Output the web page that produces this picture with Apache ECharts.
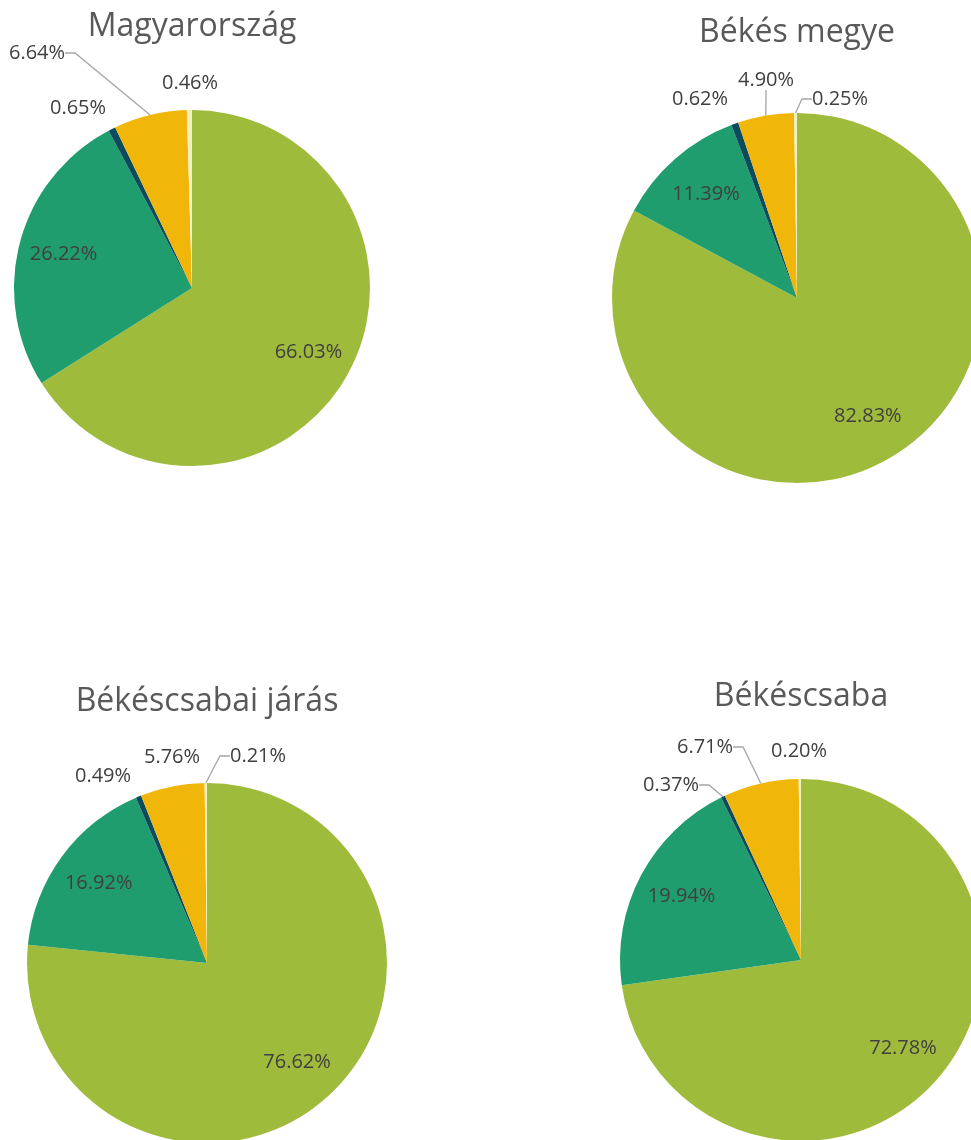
<!DOCTYPE html>
<html>
<head>
<meta charset="utf-8">
<script src="https://cdn.jsdelivr.net/npm/echarts@6/dist/echarts.min.js"></script>
<style>
  html, body { margin: 0; padding: 0; background: #fff; }
  #pies { width: 971px; height: 1140px; }
</style>
</head>
<body>
<div id="pies"></div>
<script>
// adatok (%)
var categories = ['Kategória 1', 'Kategória 2', 'Kategória 3', 'Kategória 4', 'Kategória 5'];
var titles = ['Magyarország', 'Békés megye', 'Békéscsabai járás', 'Békéscsaba'];
var magyarorszag = [66.03, 26.22, 0.65, 6.64, 0.46];
var bekesMegye = [82.83, 11.39, 0.62, 4.90, 0.25];
var bekescsabaiJaras = [76.62, 16.92, 0.49, 5.76, 0.21];
var bekescsaba = [72.78, 19.94, 0.37, 6.71, 0.20];
var values = [magyarorszag, bekesMegye, bekescsabaiJaras, bekescsaba];

var colors = ['#9fbb3c', '#1f9d6e', '#0c4a5e', '#f0b70a', '#eef1c4'];

// elhelyezés
var centers = [[192, 288], [797, 298], [207, 963], [801, 960]];
var radii = [178, 185, 180, 181];
var titleY = [27, 33, 702, 697];
// kis szeletek feliratainak helye (közép), index: 2,3,4
var smallLabelPos = [
  [[78, 108], [37, 53], [190, 83]],
  [[700, 99], [766, 80], [840, 99]],
  [[103, 776], [172, 757], [258, 756]],
  [[671, 785], [705, 747], [799, 751]]
];
var showLine = [
  [false, true, false],
  [false, true, true],
  [false, false, true],
  [true, true, false]
];

var labelFont = { fontFamily: 'Open Sans', fontSize: 20, color: '#404040' };
var fmt = function (p) { return p.value.toFixed(2) + '%'; };

var myChart = echarts.init(document.getElementById('pies'));

var series = [];
var graphics = [];

values.forEach(function (vals, k) {
  // szeletek + külső feliratok
  series.push({
    type: 'pie',
    center: centers[k],
    radius: [0, radii[k]],
    startAngle: 90,
    clockwise: true,
    avoidLabelOverlap: false,
    silent: true,
    data: vals.map(function (v, i) {
      var small = i >= 2;
      return {
        name: categories[i],
        value: v,
        itemStyle: { color: colors[i] },
        label: small ? Object.assign({ show: true, position: 'outside', formatter: fmt }, labelFont) : { show: false },
        labelLine: { show: small && showLine[k][i - 2], length: 8, length2: 10, smooth: false,
          lineStyle: { color: '#a6a6a6', width: 1.3 } }
      };
    }),
    labelLayout: function (params) {
      var i = params.dataIndex;
      if (i < 2) return {};
      var p = smallLabelPos[k][i - 2];
      return { x: p[0], y: p[1], align: 'center', verticalAlign: 'middle' };
    }
  });
  // belső feliratok gyűrűn (a sugár ~73%-ánál)
  series.push({
    type: 'pie',
    center: centers[k],
    radius: [radii[k] * 0.46, radii[k]],
    startAngle: 90,
    clockwise: true,
    silent: true,
    itemStyle: { color: 'transparent' },
    data: vals.map(function (v, i) {
      return {
        name: categories[i],
        value: v,
        label: i < 2 ? Object.assign({ show: true, position: 'inside', formatter: fmt }, labelFont) : { show: false }
      };
    })
  });
  graphics.push({
    type: 'text',
    x: centers[k][0],
    y: titleY[k],
    style: {
      text: titles[k],
      fontFamily: 'Open Sans',
      fontSize: 32,
      fill: '#595959',
      align: 'center',
      verticalAlign: 'middle'
    }
  });
});

var option = {
  animation: false,
  backgroundColor: '#ffffff',
  graphic: graphics,
  series: series
};

myChart.setOption(option);
window.addEventListener('resize', function () { myChart.resize(); });
</script>
</body>
</html>
